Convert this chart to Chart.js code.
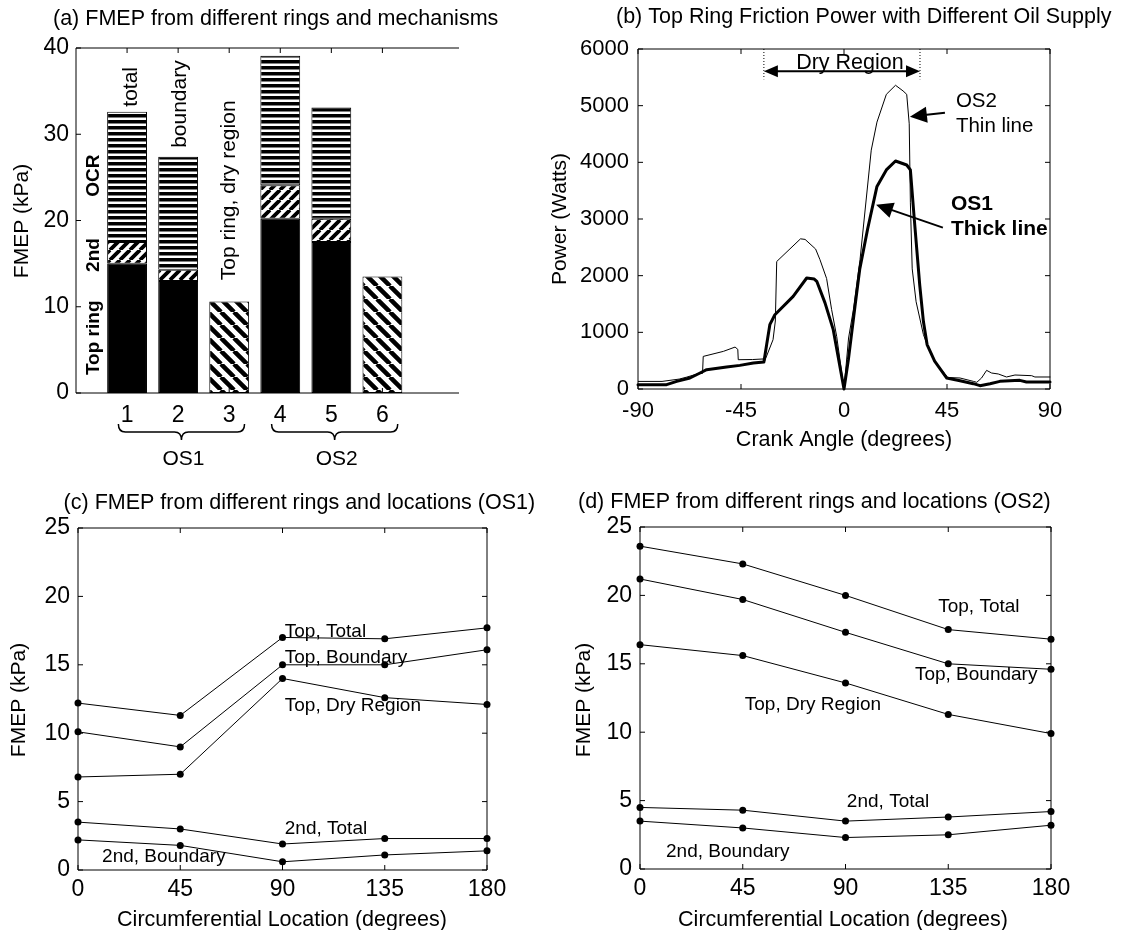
<!DOCTYPE html>
<html>
<head>
<meta charset="utf-8">
<script src="https://cdn.jsdelivr.net/npm/chart.js@4.4.1/dist/chart.umd.min.js"></script>
<style>
  body { margin: 0; background: #fff; }
  .page { position: relative; width: 1123px; height: 930px; }
  .page canvas { position: absolute; left: 0; top: 0; }
</style>
</head>
<body>
<div class="page">
  <canvas id="chartA" width="1123" height="930"></canvas>
  <canvas id="chartB" width="1123" height="930"></canvas>
  <canvas id="chartC" width="1123" height="930"></canvas>
  <canvas id="chartD" width="1123" height="930"></canvas>
</div>
<script>
'use strict'

// (a) FMEP bars, stacked by ring
const barPos = [1, 2, 3, 4, 5, 6]
const topRing = [15.0, 13.0, null, 20.2, 17.5, null]
const secondRing = [2.5, 1.3, null, 3.9, 2.7, null]
const ocrRing = [15.1, 13.1, null, 15.0, 12.9, null]
const dryRegion = [null, null, 10.6, null, null, 13.5]
const groupNames = ['OS1', 'OS2']
const groupFirst = [1, 4]
const groupLast = [3, 6]

// (b) top ring friction power vs crank angle
const os2Angle = [-90, -79.5, -72, -68.7, -63.7, -61.8, -61.5, -52.7, -47.6, -46.4, -46.2, -40, -35.3, -34.8, -31, -30, -29.4,
    -19, -17, -12.4, -10.5, -7.6, -5.4, -3.2, 0, 2, 4.1, 7, 11.9, 14.4, 18.5, 22.5, 25.8, 27.4, 28.5, 29, 29.8, 31.5,
    34.7, 36.3, 39.6, 45.3, 50.7, 56.5, 58, 60.1, 62.3, 64.5, 67.4, 71, 74.7, 82, 83.4, 90]
const os2Power = [134, 134, 175, 210, 270, 275, 575, 664, 740, 700, 517, 520, 530, 480, 870, 1200, 2250,
    2650, 2640, 2470, 2282, 1950, 1400, 929, 0, 900, 1400, 2282, 4215, 4710, 5200, 5360, 5260, 5200, 4680, 3285, 2120, 1540,
    960, 785, 494, 203, 194, 135, 118, 194, 329, 282, 265, 212, 247, 235, 212, 212]
const os1Angle = [-90, -77.5, -73.1, -67.3, -62.9, -60, -51.3, -45.5, -39.6, -35, -33.8, -32.4, -30.2, -22.2, -16.3, -13,
    -11.9, -8.3, -4.7, 0, 1.9, 4.8, 6.9, 10.3, 14.4, 18.5, 22.5, 27.4, 29, 30.7, 33.1, 34.7, 36.3, 39.6, 44.9, 50.7,
    56.5, 59.4, 63.8, 68.1, 76.8, 79.7, 90]
const os1Power = [76, 76, 135, 194, 282, 341, 388, 417, 459, 476, 782, 1135, 1311, 1634, 1959, 1940,
    1900, 1520, 1047, 0, 517, 1458, 2120, 2820, 3575, 3866, 4023, 3953, 3866, 3000, 1830, 1190, 785, 494, 194, 147,
    94, 59, 94, 135, 153, 123, 123]
const dryStart = -35
const dryEnd = 33.2

// (c) and (d) FMEP vs circumferential location
const locations = [0, 45, 90, 135, 180]
const os1TopTotal = [12.2, 11.3, 17.0, 16.9, 17.7]
const os1TopBoundary = [10.1, 9.0, 15.0, 15.0, 16.1]
const os1TopDry = [6.8, 7.0, 14.0, 12.6, 12.1]
const os1SecondTotal = [3.5, 3.0, 1.9, 2.3, 2.3]
const os1SecondBoundary = [2.2, 1.8, 0.6, 1.1, 1.4]
const os2TopTotal = [23.6, 22.3, 20.0, 17.5, 16.8]
const os2TopBoundary = [21.2, 19.7, 17.3, 15.0, 14.6]
const os2TopDry = [16.4, 15.6, 13.6, 11.3, 9.9]
const os2SecondTotal = [4.5, 4.3, 3.5, 3.8, 4.2]
const os2SecondBoundary = [3.5, 3.0, 2.3, 2.5, 3.2]

const FONT = "'Liberation Sans', Arial, Helvetica, sans-serif"
Chart.defaults.font.family = FONT
Chart.defaults.color = '#000'
Chart.defaults.animation = false
Chart.defaults.plugins.legend.display = false
Chart.defaults.plugins.tooltip.enabled = false

function font(size, bold) {
    return (bold ? 'bold ' : '') + size + 'px ' + FONT
}

function toXY(xs, ys) {
    return xs.map((x, i) => ({ x: x, y: ys[i] }))
}

function stripePattern() {
    const c = document.createElement('canvas')
    c.width = 4
    c.height = 6
    const g = c.getContext('2d')
    g.fillStyle = '#fff'
    g.fillRect(0, 0, 4, 6)
    g.fillStyle = '#000'
    g.fillRect(0, 0, 4, 3.5)
    return g.createPattern(c, 'repeat')
}

function hatchPattern(size, width, forward) {
    const c = document.createElement('canvas')
    c.width = size
    c.height = size
    const g = c.getContext('2d')
    g.fillStyle = '#fff'
    g.fillRect(0, 0, size, size)
    g.strokeStyle = '#000'
    g.lineWidth = width
    g.beginPath()
    for (let k = -1; k <= 1; k++) {
        if (forward) {
            g.moveTo(k * size, size)
            g.lineTo(k * size + size, 0)
        } else {
            g.moveTo(k * size, 0)
            g.lineTo(k * size + size, size)
        }
    }
    g.stroke()
    return g.createPattern(c, 'repeat')
}

// matlab style box with inward ticks
function framePlugin(drawRight) {
    return {
        id: 'frame',
        afterDatasetsDraw(chart) {
            const { ctx, chartArea: a, scales } = chart
            const len = 5
            ctx.save()
            ctx.strokeStyle = '#000'
            ctx.lineWidth = 1
            ctx.beginPath()
            ctx.moveTo(a.left, a.bottom)
            ctx.lineTo(a.left, a.top)
            ctx.lineTo(a.right, a.top)
            if (drawRight) ctx.lineTo(a.right, a.bottom)
            ctx.moveTo(a.left, a.bottom)
            ctx.lineTo(a.right, a.bottom)
            scales.x.ticks.forEach(t => {
                const px = scales.x.getPixelForValue(t.value)
                ctx.moveTo(px, a.bottom)
                ctx.lineTo(px, a.bottom - len)
                ctx.moveTo(px, a.top)
                ctx.lineTo(px, a.top + len)
            })
            scales.y.ticks.forEach(t => {
                const py = scales.y.getPixelForValue(t.value)
                ctx.moveTo(a.left, py)
                ctx.lineTo(a.left + len, py)
                if (drawRight) {
                    ctx.moveTo(a.right, py)
                    ctx.lineTo(a.right - len, py)
                }
            })
            ctx.stroke()
            ctx.restore()
        }
    }
}

// free text; data:true means x/y are axis values
function textPlugin(items) {
    return {
        id: 'texts',
        afterDraw(chart) {
            const { ctx, scales } = chart
            items.forEach(it => {
                let px = it.x
                let py = it.y
                if (it.data) {
                    px = scales.x.getPixelForValue(it.x)
                    py = scales.y.getPixelForValue(it.y)
                }
                ctx.save()
                ctx.translate(px, py)
                if (it.rotate) ctx.rotate(-Math.PI / 2)
                ctx.font = it.font
                ctx.fillStyle = '#000'
                ctx.textAlign = it.align || 'left'
                ctx.textBaseline = 'middle'
                ctx.fillText(it.text, 0, 0)
                ctx.restore()
            })
        }
    }
}

function arrowHead(ctx, x0, y0, x1, y1, len, half) {
    const ang = Math.atan2(y1 - y0, x1 - x0)
    const bx = x1 - len * Math.cos(ang)
    const by = y1 - len * Math.sin(ang)
    ctx.beginPath()
    ctx.moveTo(x1, y1)
    ctx.lineTo(bx + half * Math.sin(ang), by - half * Math.cos(ang))
    ctx.lineTo(bx - half * Math.sin(ang), by + half * Math.cos(ang))
    ctx.closePath()
    ctx.fill()
}

const bracePlugin = {
    id: 'braces',
    afterDraw(chart) {
        const { ctx, scales, chartArea } = chart
        const yTop = chartArea.bottom + 31
        const yMid = chartArea.bottom + 39
        const yTip = chartArea.bottom + 47
        const r = 7
        ctx.save()
        ctx.strokeStyle = '#000'
        ctx.lineWidth = 1.5
        groupNames.forEach((name, i) => {
            const x1 = scales.x.getPixelForValue(groupFirst[i] - 0.17)
            const x2 = scales.x.getPixelForValue(groupLast[i] + 0.3)
            const m = (x1 + x2) / 2
            ctx.beginPath()
            ctx.moveTo(x1, yTop)
            ctx.quadraticCurveTo(x1, yMid, x1 + r, yMid)
            ctx.lineTo(m - r, yMid)
            ctx.quadraticCurveTo(m, yMid, m, yTip)
            ctx.quadraticCurveTo(m, yMid, m + r, yMid)
            ctx.lineTo(x2 - r, yMid)
            ctx.quadraticCurveTo(x2, yMid, x2, yTop)
            ctx.stroke()
            ctx.font = font(21)
            ctx.fillStyle = '#000'
            ctx.textAlign = 'center'
            ctx.textBaseline = 'middle'
            ctx.fillText(name, m + 2, chartArea.bottom + 66)
        })
        ctx.restore()
    }
}

const arrowPlugin = {
    id: 'arrows',
    afterDraw(chart) {
        const { ctx, scales, chartArea } = chart
        const sx = v => scales.x.getPixelForValue(v)
        const sy = v => scales.y.getPixelForValue(v)
        ctx.save()
        ctx.strokeStyle = '#000'
        ctx.fillStyle = '#000'
        // dry region markers
        const ay = sy(5606)
        ctx.setLineDash([1, 2])
        ctx.lineWidth = 1
        ctx.beginPath()
        ctx.moveTo(sx(dryStart), chartArea.top)
        ctx.lineTo(sx(dryStart), ay + 8)
        ctx.moveTo(sx(dryEnd), chartArea.top)
        ctx.lineTo(sx(dryEnd), ay + 8)
        ctx.stroke()
        ctx.setLineDash([])
        ctx.lineWidth = 2
        ctx.beginPath()
        ctx.moveTo(sx(dryStart) + 8, ay)
        ctx.lineTo(sx(dryEnd) - 8, ay)
        ctx.stroke()
        arrowHead(ctx, sx(dryEnd), ay, sx(dryStart), ay, 14, 6)
        arrowHead(ctx, sx(dryStart), ay, sx(dryEnd), ay, 14, 6)
        // pointers to the two curves
        const pointers = [[44.1, 4877, 28.8, 4806], [43.2, 2847, 14.0, 3253]]
        pointers.forEach(p => {
            const x0 = sx(p[0]), y0 = sy(p[1]), x1 = sx(p[2]), y1 = sy(p[3])
            const ang = Math.atan2(y1 - y0, x1 - x0)
            ctx.beginPath()
            ctx.moveTo(x0, y0)
            ctx.lineTo(x1 - 10 * Math.cos(ang), y1 - 10 * Math.sin(ang))
            ctx.stroke()
            arrowHead(ctx, x0, y0, x1, y1, 17, 8)
        })
        ctx.restore()
    }
}

function plainNumber(v) {
    return String(v)
}

function axisBase(extra) {
    return Object.assign({
        type: 'linear',
        grid: { display: false, drawTicks: false },
        border: { display: false }
    }, extra)
}

// (a)
new Chart(document.getElementById('chartA'), {
    type: 'bar',
    data: {
        datasets: [
            { data: toXY(barPos, topRing), backgroundColor: '#000', stack: 'a' },
            { data: toXY(barPos, secondRing), backgroundColor: hatchPattern(10, 3.8, true), stack: 'a' },
            { data: toXY(barPos, ocrRing), backgroundColor: stripePattern(), stack: 'a' },
            { data: toXY(barPos, dryRegion), backgroundColor: hatchPattern(13, 4.5, false), stack: 'a' }
        ]
    },
    options: {
        responsive: false,
        layout: { padding: { left: 26, right: 664, top: 48, bottom: 487 } },
        datasets: {
            bar: { borderColor: '#000', borderWidth: 1, borderSkipped: false, barPercentage: 0.78, categoryPercentage: 1 }
        },
        scales: {
            x: axisBase({
                min: 0, max: 7.5, offset: false, stacked: true,
                afterBuildTicks: s => { s.ticks = barPos.map(v => ({ value: v })) },
                afterFit: s => { s.height = 50 },
                ticks: { font: { size: 23 }, padding: 9, maxRotation: 0, callback: plainNumber }
            }),
            y: axisBase({
                min: 0, max: 40, stacked: true,
                afterFit: s => { s.width = 50 },
                ticks: { stepSize: 10, font: { size: 23 }, padding: 7, callback: plainNumber }
            })
        }
    },
    plugins: [framePlugin(false), bracePlugin, textPlugin([
        { text: '(a) FMEP from different rings and mechanisms', x: 53, y: 19, font: font(21.5) },
        { text: 'FMEP (kPa)', x: 22, y: 221, font: font(21), align: 'center', rotate: true },
        { text: 'total', x: 1.09, y: 35.5, data: true, font: font(21), align: 'center', rotate: true },
        { text: 'boundary', x: 2.04, y: 33.5, data: true, font: font(21), align: 'center', rotate: true },
        { text: 'Top ring, dry region', x: 3.0, y: 23.5, data: true, font: font(21), align: 'center', rotate: true },
        { text: 'OCR', x: 0.35, y: 25.2, data: true, font: font(19, true), align: 'center', rotate: true },
        { text: '2nd', x: 0.35, y: 16.0, data: true, font: font(19, true), align: 'center', rotate: true },
        { text: 'Top ring', x: 0.35, y: 6.4, data: true, font: font(19, true), align: 'center', rotate: true }
    ])]
})

// (b)
new Chart(document.getElementById('chartB'), {
    type: 'line',
    data: {
        datasets: [
            { data: toXY(os2Angle, os2Power), borderColor: '#000', borderWidth: 1 },
            { data: toXY(os1Angle, os1Power), borderColor: '#000', borderWidth: 3 }
        ]
    },
    options: {
        responsive: false,
        layout: { padding: { left: 568, right: 73, top: 49, bottom: 491 } },
        datasets: { line: { pointRadius: 0, tension: 0, clip: false, borderJoinStyle: 'round', borderCapStyle: 'round' } },
        scales: {
            x: axisBase({
                min: -90, max: 90,
                afterFit: s => { s.height = 50 },
                ticks: { stepSize: 45, font: { size: 22 }, padding: 9, maxRotation: 0, callback: plainNumber }
            }),
            y: axisBase({
                min: 0, max: 6000,
                afterFit: s => { s.width = 70 },
                ticks: { stepSize: 1000, font: { size: 22 }, padding: 9, callback: plainNumber }
            })
        }
    },
    plugins: [framePlugin(true), arrowPlugin, textPlugin([
        { text: '(b) Top Ring Friction Power with Different Oil Supply', x: 616, y: 17, font: font(21.5) },
        { text: 'Power (Watts)', x: 560, y: 219, font: font(21), align: 'center', rotate: true },
        { text: 'Crank Angle (degrees)', x: 844, y: 440, font: font(21.5), align: 'center' },
        { text: 'Dry Region', x: 2.6, y: 5760, data: true, font: font(21.5), align: 'center' },
        { text: 'OS2', x: 48.9, y: 5076, data: true, font: font(20.5) },
        { text: 'Thin line', x: 48.9, y: 4635, data: true, font: font(20.5) },
        { text: 'OS1', x: 46.7, y: 3253, data: true, font: font(21, true) },
        { text: 'Thick line', x: 46.7, y: 2812, data: true, font: font(21, true) }
    ])]
})

function locationChart(id, padding, series, title, titleX, titleY, yLabelX, xLabelX, labels) {
    new Chart(document.getElementById(id), {
        type: 'line',
        data: {
            datasets: series.map(s => ({
                data: toXY(locations, s),
                borderColor: '#000',
                borderWidth: 1,
                pointRadius: 3.5,
                pointBackgroundColor: '#000',
                pointBorderColor: '#000',
                pointBorderWidth: 0
            }))
        },
        options: {
            responsive: false,
            layout: { padding: padding },
            datasets: { line: { tension: 0, clip: false } },
            scales: {
                x: axisBase({
                    min: 0, max: 180,
                    afterFit: s => { s.height = 50 },
                    ticks: { stepSize: 45, font: { size: 23 }, padding: 6, maxRotation: 0, callback: plainNumber }
                }),
                y: axisBase({
                    min: 0, max: 25,
                    afterFit: s => { s.width = 45 },
                    ticks: { stepSize: 5, font: { size: 23 }, padding: 8, callback: plainNumber }
                })
            }
        },
        plugins: [framePlugin(true), textPlugin([
            { text: title, x: titleX, y: titleY, font: font(21.5) },
            { text: 'FMEP (kPa)', x: yLabelX, y: 700, font: font(21), align: 'center', rotate: true },
            { text: 'Circumferential Location (degrees)', x: xLabelX, y: 920, font: font(21.5), align: 'center' }
        ].concat(labels.map(l => ({ text: l[0], x: l[1], y: l[2], data: true, font: font(19) }))))]
    })
}

// (c)
locationChart('chartC', { left: 33, right: 636, top: 528, bottom: 10 },
    [os1TopTotal, os1TopBoundary, os1TopDry, os1SecondTotal, os1SecondBoundary],
    '(c) FMEP from different rings and locations (OS1)', 63.6, 503, 19, 282, [
        ['Top, Total', 91, 17.4],
        ['Top, Boundary', 91, 15.5],
        ['Top, Dry Region', 91, 12.0],
        ['2nd, Total', 91, 3.0],
        ['2nd, Boundary', 10.6, 1.0]
    ])

// (d)
locationChart('chartD', { left: 595, right: 72, top: 527, bottom: 11 },
    [os2TopTotal, os2TopBoundary, os2TopDry, os2SecondTotal, os2SecondBoundary],
    '(d) FMEP from different rings and locations (OS2)', 578, 502, 584, 843, [
        ['Top, Total', 130.6, 19.2],
        ['Top, Boundary', 120.4, 14.2],
        ['Top, Dry Region', 45.9, 12.0],
        ['2nd, Total', 90.6, 4.95],
        ['2nd, Boundary', 11.4, 1.26]
    ])
</script>
</body>
</html>
